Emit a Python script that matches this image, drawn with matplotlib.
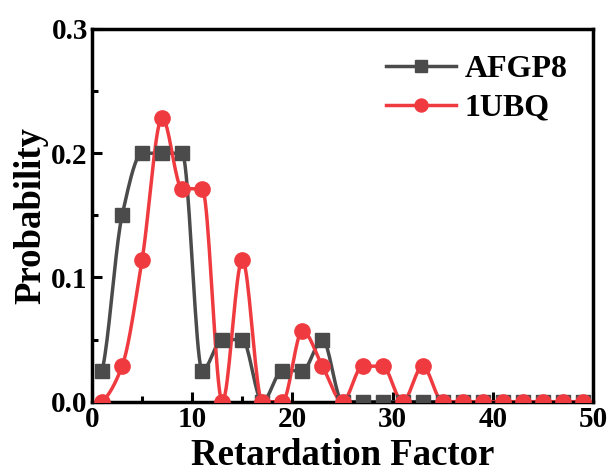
import numpy as np
import matplotlib.pyplot as plt

# retardation factor (odd values 1..49)
factor = [1, 3, 5, 7, 9, 11, 13, 15, 17, 19, 21, 23, 25,
          27, 29, 31, 33, 35, 37, 39, 41, 43, 45, 47, 49]
afgp8 = [0.025, 0.15, 0.2, 0.2, 0.2, 0.025, 0.05, 0.05, 0.0, 0.025, 0.025, 0.05, 0.0,
         0.0, 0.0, 0.0, 0.0, 0.0, 0.0, 0.0, 0.0, 0.0, 0.0, 0.0, 0.0]
ubq = [0.0, 0.0286, 0.1143, 0.2286, 0.1714, 0.1714, 0.0, 0.1143, 0.0, 0.0, 0.0571, 0.0286, 0.0,
       0.0286, 0.0286, 0.0, 0.0286, 0.0, 0.0, 0.0, 0.0, 0.0, 0.0, 0.0, 0.0]

GREY = "#4b4b4b"
RED = "#ef3b40"


def smooth(x, y, n=20):
    """Monotone cubic (Fritsch-Carlson) curve through the points, for the line only."""
    x = np.asarray(x, float)
    y = np.asarray(y, float)
    h = np.diff(x)
    d = np.diff(y) / h
    m = np.zeros_like(y)
    for i in range(1, len(y) - 1):
        if d[i - 1] * d[i] > 0:
            w1 = 2 * h[i] + h[i - 1]
            w2 = h[i] + 2 * h[i - 1]
            m[i] = (w1 + w2) / (w1 / d[i - 1] + w2 / d[i])
    m[0] = d[0] * 0.5
    m[-1] = d[-1] * 0.5
    xs, ys = [], []
    for i in range(len(x) - 1):
        t = np.linspace(0, 1, n, endpoint=False)
        h00 = 2 * t**3 - 3 * t**2 + 1
        h10 = t**3 - 2 * t**2 + t
        h01 = -2 * t**3 + 3 * t**2
        h11 = t**3 - t**2
        xs.extend(x[i] + t * h[i])
        ys.extend(h00 * y[i] + h10 * h[i] * m[i] + h01 * y[i + 1] + h11 * h[i] * m[i + 1])
    xs.append(x[-1])
    ys.append(y[-1])
    return np.array(xs), np.array(ys)


def main():
    plt.rcParams["font.family"] = "Liberation Serif"
    plt.rcParams["font.weight"] = "bold"
    fig = plt.figure(figsize=(6.11, 4.73), dpi=100)
    ax = fig.add_axes([0.1506, 0.1507, 0.82, 0.788])

    for y, color, marker, ms, label in [(afgp8, GREY, "s", 9.5, "AFGP8"),
                                        (ubq, RED, "o", 11, "1UBQ")]:
        sx, sy = smooth(factor, y)
        ax.plot(sx, sy, color=color, lw=2.5, zorder=2)
        ax.plot(factor, y, ls="none", marker=marker, ms=ms, color=color, zorder=3)
        ax.plot([], [], color=color, lw=2.5, marker=marker, ms=ms * 0.85, label=label)

    ax.set_xlim(0, 50)
    ax.set_ylim(0, 0.3)
    ax.set_xticks([0, 10, 20, 30, 40, 50])
    ax.set_xticks([5, 15, 25, 35, 45], minor=True)
    ax.set_yticks([0.0, 0.1, 0.2, 0.3])
    ax.set_yticks([0.05, 0.15, 0.25], minor=True)
    ax.set_yticklabels(["0.0", "0.1", "0.2", "0.3"])
    ax.tick_params(which="both", direction="in", width=2.2, labelsize=21, pad=3)
    ax.tick_params(which="major", length=7)
    ax.tick_params(which="minor", length=4)
    for sp in ax.spines.values():
        sp.set_linewidth(2.5)
    for lab in ax.get_xticklabels() + ax.get_yticklabels():
        lab.set_fontweight("bold")

    ax.set_xlabel("Retardation Factor", fontsize=26.5, fontweight="bold", labelpad=4)
    ax.set_ylabel("Probability", fontsize=26.5, fontweight="bold", labelpad=2)
    ax.legend(loc="upper right", frameon=False,
              prop={"weight": "bold", "size": 23}, handlelength=2.2,
              handletextpad=0.25, borderaxespad=0.4, labelspacing=0.3)

    fig.savefig("out.png", dpi=100)


if __name__ == "__main__":
    main()
